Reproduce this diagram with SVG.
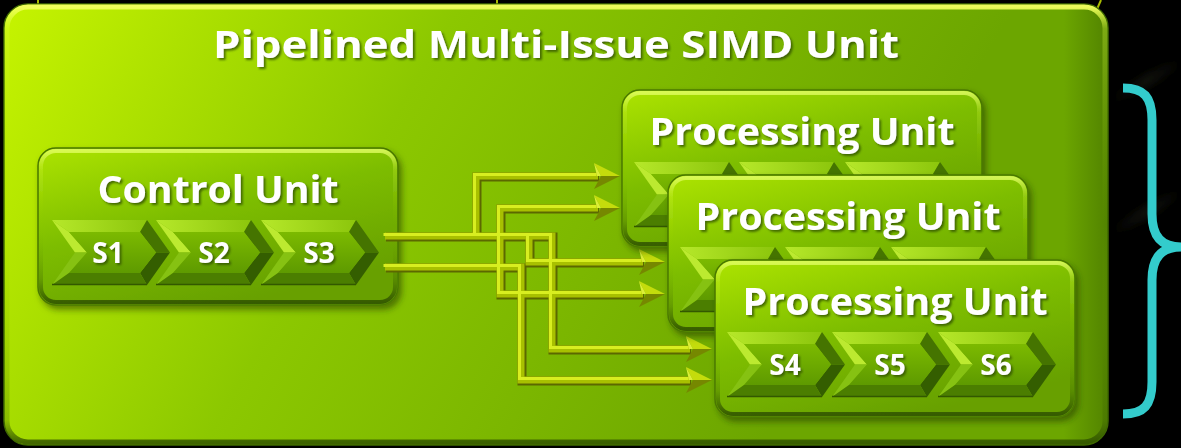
<svg xmlns="http://www.w3.org/2000/svg" xmlns:xlink="http://www.w3.org/1999/xlink" width="1181" height="448" viewBox="0 0 1181 448">
  <defs>
    <style>
      .title { font-family: "Open Sans", "Liberation Sans", sans-serif; font-weight: 700; fill: #ffffff; text-anchor: middle; filter: url(#textShadow); }
      .stage { font-family: "Open Sans", "Liberation Sans", sans-serif; font-weight: 700; font-size: 28px; fill: #ffffff; text-anchor: middle; filter: url(#textShadow); }
      .stub { stroke: #a9bb00; stroke-width: 2; fill: none; }
    </style>

    <!-- fills -->
    <linearGradient id="outerFill" gradientUnits="userSpaceOnUse" x1="4" y1="4" x2="760" y2="445">
      <stop offset="0" stop-color="#c6f400"/>
      <stop offset="0.45" stop-color="#8cc800"/>
      <stop offset="1" stop-color="#6ca600"/>
    </linearGradient>
    <linearGradient id="boxFill" x1="0" y1="0" x2="0.55" y2="1">
      <stop offset="0" stop-color="#ade400"/>
      <stop offset="0.5" stop-color="#7dbd00"/>
      <stop offset="1" stop-color="#67a000"/>
    </linearGradient>
    <linearGradient id="rim" x1="0" y1="0" x2="0" y2="1">
      <stop offset="0" stop-color="#e4ff68" stop-opacity="0.8"/>
      <stop offset="0.12" stop-color="#d6f848" stop-opacity="0.25"/>
      <stop offset="0.5" stop-color="#8cc800" stop-opacity="0"/>
      <stop offset="0.85" stop-color="#2f5200" stop-opacity="0.25"/>
      <stop offset="1" stop-color="#2a4a00" stop-opacity="0.8"/>
    </linearGradient>
    <linearGradient id="outerRim" x1="0" y1="0" x2="0" y2="1">
      <stop offset="0" stop-color="#f2ff60" stop-opacity="0.95"/>
      <stop offset="0.05" stop-color="#dcff40" stop-opacity="0.3"/>
      <stop offset="0.5" stop-color="#8cc800" stop-opacity="0"/>
      <stop offset="0.95" stop-color="#355a00" stop-opacity="0.25"/>
      <stop offset="1" stop-color="#2c4c00" stop-opacity="0.8"/>
    </linearGradient>
    <linearGradient id="outerSide" x1="0" y1="0" x2="1" y2="0">
      <stop offset="0" stop-color="#ffffff" stop-opacity="0"/>
      <stop offset="0.96" stop-color="#3c6600" stop-opacity="0"/>
      <stop offset="1" stop-color="#3c6600" stop-opacity="0.55"/>
    </linearGradient>
    <linearGradient id="chevTop" x1="0" y1="0" x2="1" y2="0">
      <stop offset="0" stop-color="#b6e82a"/>
      <stop offset="1" stop-color="#8cc60c"/>
    </linearGradient>
    <linearGradient id="chevFace" x1="0" y1="0" x2="0" y2="1">
      <stop offset="0" stop-color="#7cba00"/>
      <stop offset="1" stop-color="#5e9a00"/>
    </linearGradient>
    <linearGradient id="haze" x1="0" y1="0" x2="1" y2="0">
      <stop offset="0" stop-color="#3a3e28" stop-opacity="0"/>
      <stop offset="0.5" stop-color="#3a3e28" stop-opacity="0.35"/>
      <stop offset="1" stop-color="#3a3e28" stop-opacity="0"/>
    </linearGradient>

    <filter id="boxShadow" x="-10%" y="-10%" width="125%" height="130%">
      <feDropShadow dx="3" dy="4" stdDeviation="3" flood-color="#1c3400" flood-opacity="0.55"/>
    </filter>
    <filter id="textShadow" x="-5%" y="-20%" width="115%" height="150%">
      <feDropShadow dx="2" dy="2" stdDeviation="1" flood-color="#2e4e00" flood-opacity="0.75"/>
    </filter>
    <filter id="soft" x="-20%" y="-50%" width="140%" height="200%">
      <feGaussianBlur stdDeviation="4"/>
    </filter>

    <!-- rounded unit frame, 360 x 157 -->
    <g id="unitFrame">
      <rect x="0" y="0" width="360" height="157" rx="18" fill="url(#boxFill)" stroke="#4a7800" stroke-width="1.5"/>
      <rect x="3" y="3" width="354" height="151" rx="15" fill="none" stroke="url(#rim)" stroke-width="4"/>
    </g>

    <!-- bevelled pipeline stage chevron, 118 x 65 -->
    <g id="chev">
      <polygon points="0,0 95,0 88,12 17,12" fill="url(#chevTop)"/>
      <polygon points="0,0 17,12 35,32.5 23,32.5" fill="#bcea30"/>
      <polygon points="23,32.5 35,32.5 17,53 0,65" fill="#86c212"/>
      <polygon points="95,0 118,32.5 104,32.5 88,12" fill="#457400"/>
      <polygon points="118,32.5 95,65 88,53 104,32.5" fill="#345e00"/>
      <polygon points="0,65 17,53 88,53 95,65" fill="#4b7e00"/>
      <polygon points="17,12 88,12 104,32.5 88,53 17,53 35,32.5" fill="url(#chevFace)"/>
      <line x1="0" y1="64.5" x2="95" y2="64.5" stroke="#335800" stroke-width="1.5"/>
    </g>

    <!-- faceted arrowhead, tip at origin -->
    <g id="arrowHead">
      <polygon points="-26,-13 0,0 -19,0" fill="#c4dc0c"/>
      <polygon points="-26,13 0,0 -19,0" fill="#768800"/>
      <polygon points="-26,-13 -19,0 -23,0" fill="#dcee38"/>
    </g>

    <!-- wire centrelines (branches first so trunks sit on top) -->
    <g id="wirePaths" fill="none" stroke-linejoin="miter">
      <path d="M476,236 V176 H598"/>
      <path d="M529,236 V262 H643"/>
      <path d="M598,208 H500 V294 H643"/>
      <path d="M385,236 H552 V349 H690"/>
      <path d="M385,267 H521 V380 H690"/>
    </g>
  </defs>

  <!-- backdrop -->
  <rect x="0" y="0" width="1181" height="448" fill="#000000"/>
  <path d="M1112,100 L1181,62" stroke="url(#haze)" stroke-width="10" filter="url(#soft)"/>
  <path d="M1112,232 L1181,192" stroke="url(#haze)" stroke-width="10" filter="url(#soft)"/>

  <!-- leads continuing above the frame -->
  <line class="stub" x1="38" y1="0" x2="38" y2="6"/>
  <line class="stub" x1="497" y1="0" x2="497" y2="6"/>
  <line class="stub" x1="1101" y1="0" x2="1094" y2="16"/>

  <!-- enclosing SIMD unit -->
  <g id="simd-unit">
    <rect x="4" y="4" width="1104" height="441" rx="24" fill="url(#outerFill)" stroke="#3f6a00" stroke-width="1.5"/>
    <rect x="4" y="4" width="1104" height="441" rx="24" fill="url(#outerSide)"/>
    <rect x="7" y="7" width="1098" height="435" rx="21" fill="none" stroke="url(#outerRim)" stroke-width="5"/>
    <text class="title" x="556" y="58" font-size="37" textLength="686" lengthAdjust="spacingAndGlyphs">Pipelined Multi-Issue SIMD Unit</text>
  </g>

  <!-- control unit -->
  <g id="control-unit">
    <use xlink:href="#unitFrame" href="#unitFrame" x="38" y="148" filter="url(#boxShadow)"/>
    <text class="title" x="218" y="203" font-size="37" textLength="241" lengthAdjust="spacingAndGlyphs">Control Unit</text>
    <use xlink:href="#chev" href="#chev" x="52" y="220"/>
    <use xlink:href="#chev" href="#chev" x="156" y="220"/>
    <use xlink:href="#chev" href="#chev" x="261" y="220"/>
    <text class="stage" x="108" y="263">S1</text>
    <text class="stage" x="214" y="263">S2</text>
    <text class="stage" x="319" y="263">S3</text>
  </g>

  <!-- issue wires to the processing units: dark underside, body, light top edge -->
  <g id="connectors">
    <use xlink:href="#wirePaths" href="#wirePaths" transform="translate(1,1)" stroke="#5c6800" stroke-width="9"/>
    <use xlink:href="#wirePaths" href="#wirePaths" stroke="#a8c000" stroke-width="7"/>
    <use xlink:href="#wirePaths" href="#wirePaths" transform="translate(-1.5,-1.5)" stroke="#d8ee20" stroke-width="3"/>
    <use xlink:href="#arrowHead" href="#arrowHead" x="620" y="176"/>
    <use xlink:href="#arrowHead" href="#arrowHead" x="620" y="208"/>
    <use xlink:href="#arrowHead" href="#arrowHead" x="665" y="262"/>
    <use xlink:href="#arrowHead" href="#arrowHead" x="665" y="294"/>
    <use xlink:href="#arrowHead" href="#arrowHead" x="712" y="349"/>
    <use xlink:href="#arrowHead" href="#arrowHead" x="712" y="380"/>
  </g>

  <!-- processing units, stacked back to front -->
  <g id="processing-unit-1">
    <use xlink:href="#unitFrame" href="#unitFrame" x="622" y="90" filter="url(#boxShadow)"/>
    <text class="title" x="802" y="145" font-size="37" textLength="305" lengthAdjust="spacingAndGlyphs">Processing Unit</text>
    <use xlink:href="#chev" href="#chev" x="634" y="162"/>
    <use xlink:href="#chev" href="#chev" x="739" y="162"/>
    <use xlink:href="#chev" href="#chev" x="845" y="162"/>
  </g>

  <g id="processing-unit-2">
    <use xlink:href="#unitFrame" href="#unitFrame" x="668" y="175" filter="url(#boxShadow)"/>
    <text class="title" x="848" y="230" font-size="37" textLength="305" lengthAdjust="spacingAndGlyphs">Processing Unit</text>
    <use xlink:href="#chev" href="#chev" x="680" y="247"/>
    <use xlink:href="#chev" href="#chev" x="785" y="247"/>
    <use xlink:href="#chev" href="#chev" x="891" y="247"/>
  </g>

  <g id="processing-unit-3">
    <use xlink:href="#unitFrame" href="#unitFrame" x="715" y="260" filter="url(#boxShadow)"/>
    <text class="title" x="895" y="315" font-size="37" textLength="305" lengthAdjust="spacingAndGlyphs">Processing Unit</text>
    <use xlink:href="#chev" href="#chev" x="727" y="332"/>
    <use xlink:href="#chev" href="#chev" x="832" y="332"/>
    <use xlink:href="#chev" href="#chev" x="938" y="332"/>
    <text class="stage" x="785" y="375">S4</text>
    <text class="stage" x="890" y="375">S5</text>
    <text class="stage" x="996" y="375">S6</text>
  </g>

  <!-- brace grouping the processing units -->
  <g id="brace">
    <path d="M1123,88 C1144,88 1152,97 1152,120 V214 C1152,237 1162,247 1181,247 C1162,247 1152,257 1152,280 V382 C1152,405 1144,414 1123,414" fill="none" stroke="#33cccc" stroke-width="9"/>
  </g>
</svg>
